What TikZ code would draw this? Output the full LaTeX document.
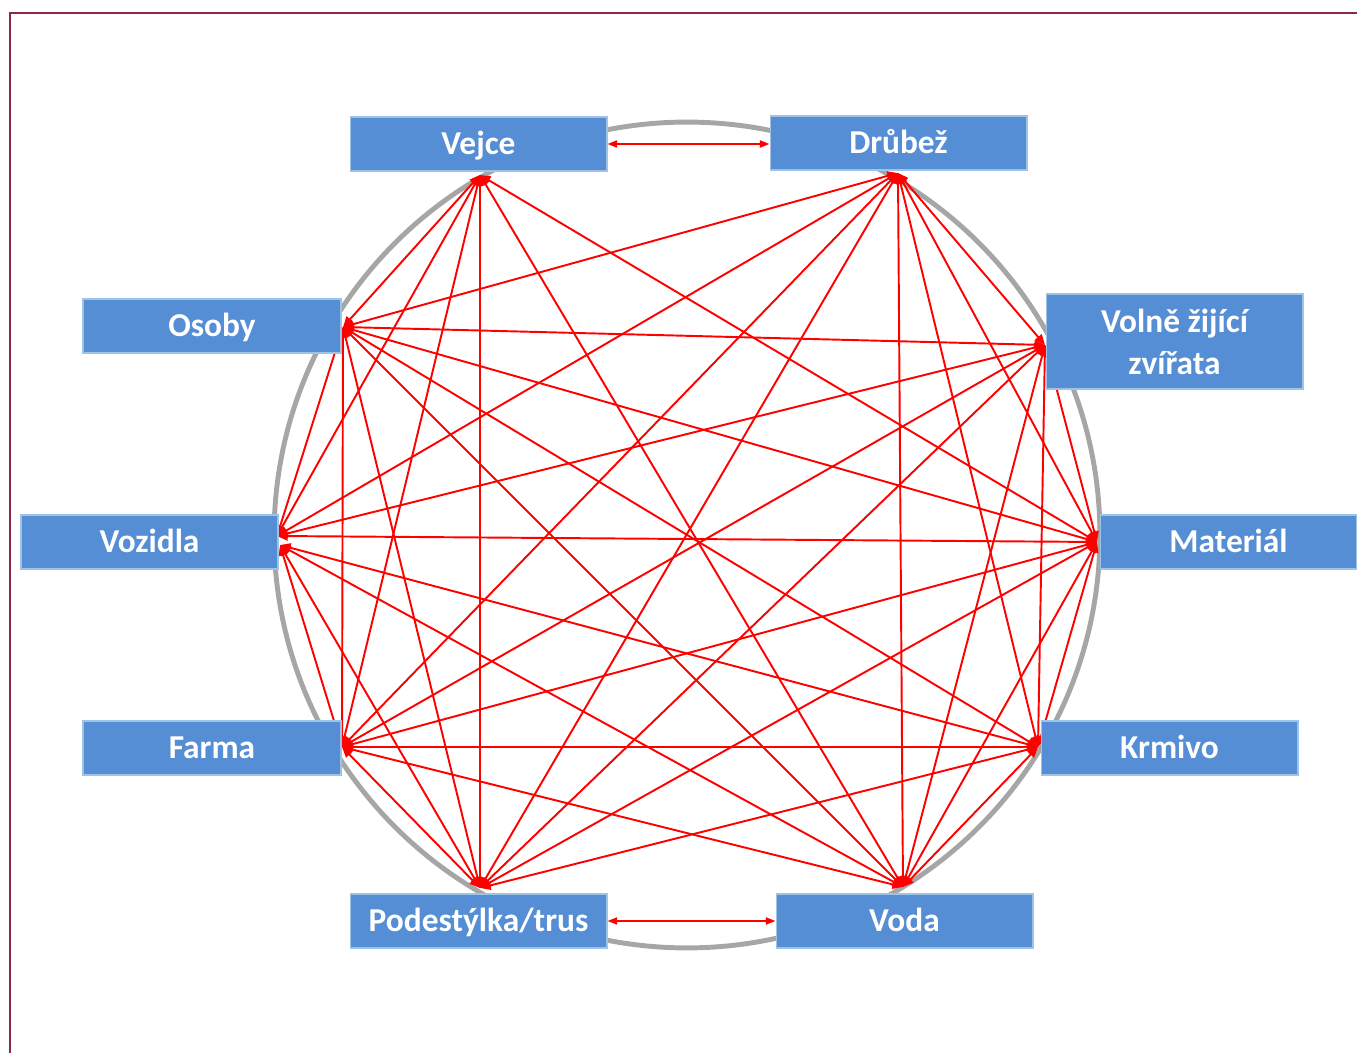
\documentclass[tikz,border=0pt]{standalone}
\usepackage{fontspec}
\setmainfont{Carlito}
\usetikzlibrary{arrows.meta}
\definecolor{boxblue}{HTML}{558ED5}
\definecolor{boxedge}{HTML}{9DC3E6}
\definecolor{ringgray}{HTML}{A6A6A6}
\definecolor{framered}{HTML}{8C2850}
\definecolor{linkred}{HTML}{FF0000}
\tikzset{
  boxbase/.style={rectangle, fill=boxblue, draw=boxedge, line width=0.6pt, text=white,
    font=\fontsize{19}{24}\selectfont\bfseries, inner sep=0pt, align=center,
    minimum width=5.14cm, minimum height=1.08cm},
  box/.style={boxbase, text height=14pt, text depth=2pt},
  link/.style={draw=linkred, line width=1.1pt,
    {Triangle[length=6pt,width=5pt]}-{Triangle[length=6pt,width=5pt]}},
  sidelink/.style={draw=linkred, line width=1.1pt,
    {Triangle[length=5.5pt,width=4pt]}-{Triangle[length=5.5pt,width=4pt]}},
  ring/.style={draw=ringgray, line width=2.8pt},
  frame/.style={draw=framered, line width=1pt}
}
\begin{document}
\begin{tikzpicture}[x=0.02cm, y=-0.02cm]
\useasboundingbox (0,0) rectangle (1357,1053);
\draw[frame] (10,1053) coordinate (fb) -- (10,13) coordinate (fc) -- (1357,13) coordinate (fr);
\node[ring, circle, minimum size=16.52cm, inner sep=0pt] (ring) at (687,535) {};
% connection points
\coordinate (pVe) at (480,175);
\coordinate (pDr) at (898,173);
\coordinate (pOs) at (343,327);
\coordinate (pWl) at (1045,345);
\coordinate (pVz) at (277,536);
\coordinate (pVy) at (280,545);
\coordinate (pMa) at (1097,542);
\coordinate (pFa) at (342,747);
\coordinate (pKr) at (1038,747);
\coordinate (pPo) at (480,888);
\coordinate (pVd) at (903,887);
% links
\foreach \a/\b in {Ve/Os,Ve/Vz,Ve/Fa,Ve/Po,Ve/Vd,Ve/Ma,
  Dr/Os,Dr/Vz,Dr/Fa,Dr/Po,Dr/Vd,Dr/Kr,Dr/Ma,Dr/Wl,
  Os/Wl,Os/Vz,Os/Ma,Os/Fa,Os/Kr,Os/Po,Os/Vd,
  Wl/Vz,Wl/Ma,Wl/Fa,Wl/Kr,Wl/Po,Wl/Vd,
  Vz/Ma,Vy/Fa,Vy/Kr,Vy/Po,Vy/Vd,
  Ma/Fa,Ma/Kr,Ma/Po,Ma/Vd,
  Fa/Kr,Fa/Po,Fa/Vd,
  Kr/Po,Kr/Vd}
  \draw[link] (p\a) -- (p\b);
% boxes
\node[box] (ve) at (478.5,144) {Vejce};
\node[box] (dr) at (898.5,143) {Drůbež};
\node[box, minimum width=5.16cm] (os) at (212,326) {Osoby};
\node[boxbase, minimum height=1.9cm] (wl) at (1174.5,341.5) {Volně žijící\\zvířata};
\node[box] (vz) at (149.5,542) {Vozidla};
\node[box] (ma) at (1228.5,542) {Materiál};
\node[box, minimum width=5.16cm] (fa) at (212,748) {Farma};
\node[box] (kr) at (1169.5,748) {Krmivo};
\node[box] (po) at (478.5,921) {Podestýlka/trus};
\node[box] (vd) at (904.5,921) {Voda};
% side arrows
\draw[sidelink] (ve.east) -- (dr.west |- ve.east);
\draw[sidelink] (po.east) -- (vd.west |- po.east);
\end{tikzpicture}
\end{document}
